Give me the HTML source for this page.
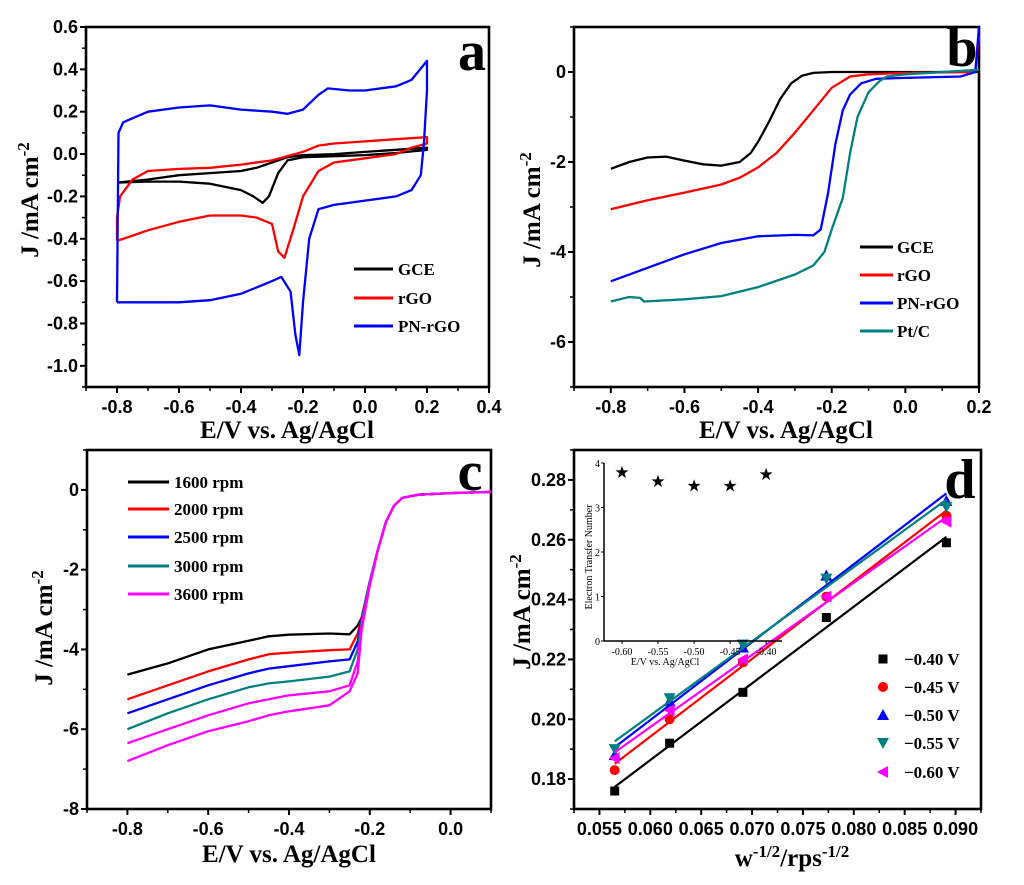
<!DOCTYPE html>
<html><head><meta charset="utf-8">
<style>
html,body{margin:0;padding:0;background:#fff;}
svg{display:block;}
.tk{font-family:"Liberation Sans",Arial,sans-serif;font-weight:bold;font-size:18px;fill:#000;}
.ttl{font-family:"Liberation Serif","Times New Roman",serif;font-weight:bold;font-size:25px;fill:#000;}
.lg{font-family:"Liberation Serif","Times New Roman",serif;font-weight:bold;font-size:17px;fill:#000;}
.let{font-family:"Liberation Serif","Times New Roman",serif;font-weight:bold;font-size:56px;fill:#000;}
.itk{font-family:"Liberation Serif",serif;font-size:10px;fill:#000;}
</style></head>
<body>
<svg id="fig" width="1024" height="885" viewBox="0 0 1024 885" xmlns="http://www.w3.org/2000/svg"></svg>
<script>
// ---- Panel a data (CV) ----
const aGceX=[-0.8,-0.7,-0.6,-0.5,-0.4,-0.35,-0.3,-0.25,-0.2,-0.1,0,0.1,0.2,0.2,0.1,0,-0.1,-0.2,-0.25,-0.28,-0.31,-0.33,-0.36,-0.4,-0.5,-0.6,-0.7,-0.8];
const aGceY=[-0.135,-0.12,-0.1,-0.09,-0.08,-0.065,-0.04,-0.015,-0.005,0,0.01,0.02,0.03,0.02,0.005,-0.005,-0.01,-0.015,-0.03,-0.09,-0.2,-0.23,-0.2,-0.17,-0.14,-0.13,-0.13,-0.135];
const aRgoX=[-0.8,-0.8,-0.79,-0.75,-0.7,-0.6,-0.5,-0.4,-0.3,-0.2,-0.15,-0.1,0,0.1,0.2,0.2,0.15,0.1,0,-0.1,-0.15,-0.2,-0.23,-0.26,-0.28,-0.3,-0.35,-0.4,-0.5,-0.6,-0.7,-0.8];
const aRgoY=[-0.41,-0.3,-0.2,-0.12,-0.08,-0.07,-0.065,-0.05,-0.03,0.01,0.04,0.05,0.06,0.07,0.08,0.05,0.03,0,-0.02,-0.04,-0.08,-0.2,-0.35,-0.49,-0.46,-0.33,-0.3,-0.29,-0.29,-0.32,-0.36,-0.41];
const aPnX=[-0.8,-0.795,-0.78,-0.7,-0.6,-0.5,-0.4,-0.3,-0.25,-0.2,-0.15,-0.12,-0.05,0,0.1,0.15,0.2,0.2,0.19,0.18,0.15,0.1,0,-0.1,-0.15,-0.18,-0.2,-0.212,-0.225,-0.24,-0.27,-0.3,-0.4,-0.5,-0.6,-0.7,-0.8];
const aPnY=[-0.7,0.1,0.15,0.2,0.22,0.23,0.21,0.2,0.19,0.21,0.28,0.31,0.3,0.3,0.32,0.35,0.44,0.3,0.05,-0.1,-0.17,-0.2,-0.22,-0.24,-0.26,-0.4,-0.7,-0.95,-0.85,-0.65,-0.58,-0.6,-0.66,-0.69,-0.7,-0.7,-0.7];
const aXTicks=[-0.8,-0.6,-0.4,-0.2,0.0,0.2,0.4];
const aYTicks=[-1.0,-0.8,-0.6,-0.4,-0.2,0.0,0.2,0.4,0.6];
// ---- Panel b data (LSV) ----
const bGceX=[-0.8,-0.75,-0.7,-0.65,-0.6,-0.55,-0.5,-0.45,-0.42,-0.4,-0.37,-0.34,-0.31,-0.28,-0.25,-0.2,0.2];
const bGceY=[-2.15,-2.0,-1.9,-1.88,-1.97,-2.05,-2.08,-2.0,-1.8,-1.55,-1.1,-0.6,-0.25,-0.08,-0.02,0,0];
const bRgoX=[-0.8,-0.7,-0.6,-0.5,-0.45,-0.4,-0.35,-0.3,-0.25,-0.2,-0.15,-0.1,0,0.19,0.2];
const bRgoY=[-3.05,-2.85,-2.68,-2.5,-2.35,-2.12,-1.8,-1.35,-0.85,-0.35,-0.1,-0.05,-0.02,0,0.8];
const bPnX=[-0.8,-0.7,-0.6,-0.5,-0.4,-0.3,-0.25,-0.23,-0.21,-0.19,-0.17,-0.15,-0.12,-0.08,0,0.15,0.19,0.2];
const bPnY=[-4.65,-4.35,-4.05,-3.8,-3.65,-3.62,-3.63,-3.5,-2.7,-1.6,-0.85,-0.5,-0.25,-0.15,-0.13,-0.1,0,1.0];
const bPtX=[-0.8,-0.75,-0.72,-0.71,-0.6,-0.5,-0.4,-0.3,-0.25,-0.22,-0.2,-0.17,-0.15,-0.13,-0.1,-0.07,-0.05,0,0.2];
const bPtY=[-5.1,-5.0,-5.02,-5.1,-5.05,-4.98,-4.78,-4.5,-4.3,-4.0,-3.5,-2.8,-1.8,-1.0,-0.45,-0.2,-0.1,-0.05,0.05];
const bXTicks=[-0.8,-0.6,-0.4,-0.2,0.0,0.2];
const bYTicks=[-6,-4,-2,0];
// ---- Panel c data (rotation rates) ----
const cX=[-0.8,-0.7,-0.6,-0.5,-0.45,-0.4,-0.3,-0.25,-0.23,-0.22,-0.2,-0.18,-0.16,-0.14,-0.12,-0.08,0,0.1];
const c1600=[-4.63,-4.35,-4.0,-3.78,-3.67,-3.63,-3.6,-3.62,-3.4,-3.2,-2.3,-1.5,-0.8,-0.4,-0.2,-0.12,-0.08,-0.05];
const c2000=[-5.25,-4.9,-4.55,-4.25,-4.12,-4.08,-4.02,-4.0,-3.6,-3.2,-2.3,-1.5,-0.8,-0.4,-0.2,-0.12,-0.08,-0.05];
const c2500=[-5.6,-5.25,-4.9,-4.6,-4.48,-4.42,-4.3,-4.25,-3.8,-3.25,-2.3,-1.5,-0.8,-0.4,-0.2,-0.12,-0.08,-0.05];
const c3000=[-6.0,-5.6,-5.25,-4.95,-4.85,-4.8,-4.68,-4.55,-4.0,-3.3,-2.3,-1.5,-0.8,-0.4,-0.2,-0.12,-0.08,-0.05];
const c3600=[-6.35,-6.0,-5.65,-5.35,-5.25,-5.15,-5.05,-4.9,-4.3,-3.4,-2.35,-1.5,-0.8,-0.4,-0.2,-0.12,-0.08,-0.05];
const c3600b=[-6.8,-6.4,-6.05,-5.8,-5.65,-5.55,-5.4,-5.05,-4.6,-3.5,-2.4,-1.5,-0.8,-0.4,-0.2,-0.12,-0.08,-0.05];
const cXTicks=[-0.8,-0.6,-0.4,-0.2,0.0];
const cYTicks=[-8,-6,-4,-2,0];
// ---- Panel d data (K-L plot) ----
const dX=[0.0565,0.0619,0.0691,0.0773,0.0891];
const d040=[0.176,0.192,0.209,0.234,0.259];
const d045=[0.183,0.200,0.219,0.241,0.268];
const d050=[0.188,0.206,0.224,0.248,0.273];
const d055=[0.190,0.207,0.225,0.247,0.271];
const d060=[0.187,0.203,0.220,0.241,0.266];
const dXTicks=[0.055,0.060,0.065,0.070,0.075,0.080,0.085,0.090];
const dXLabels=["0.055","0.060","0.065","0.070","0.075","0.080","0.085","0.090"];
const dYTicks=[0.18,0.20,0.22,0.24,0.26,0.28];
const dYLabels=["0.18","0.20","0.22","0.24","0.26","0.28"];
const insetX=[-0.60,-0.55,-0.50,-0.45,-0.40];
const insetN=[3.8,3.6,3.5,3.5,3.75];
const insetXTicks=[-0.60,-0.55,-0.50,-0.45,-0.40];
const insetXLabels=["-0.60","-0.55","-0.50","-0.45","-0.40"];
const insetYTicks=[0,1,2,3,4];

const NS="http://www.w3.org/2000/svg";
const svg=document.getElementById('fig');
function mk(tag,attrs,parent){const e=document.createElementNS(NS,tag);for(const k in attrs)e.setAttribute(k,attrs[k]);(parent||svg).appendChild(e);return e;}
function scale(d0,d1,r0,r1){return v=>r0+(v-d0)/(d1-d0)*(r1-r0);}
function fmt(v,dec){return v.toFixed(dec);}

function axes(P,xt,xl,yt,yl,minor,name){
  const g=mk('g',{});
  
  
  const fr=mk('rect',{x:P.L,y:P.T,width:P.R-P.L,height:P.B-P.T,fill:'none',stroke:'#000','stroke-width':2.6},g);
  
  
  xt.forEach((v,i)=>{const x=P.x(v);
    mk('line',{x1:x,x2:x,y1:P.B,y2:P.B+6,stroke:'#000','stroke-width':2},g);
    const t=mk('text',{x:x,y:P.B+26,'text-anchor':'middle',class:'tk'},g);
    t.textContent=xl[i];
    
    
    if(i<xt.length-1){const xm=P.x((v+xt[i+1])/2);mk('line',{x1:xm,x2:xm,y1:P.B,y2:P.B+4,stroke:'#000','stroke-width':1.5},g);}
  });
  if(minor){const x0=P.x(xt[0]-(xt[1]-xt[0])/2);if(x0>=P.L-1)mk('line',{x1:x0,x2:x0,y1:P.B,y2:P.B+4,stroke:'#000','stroke-width':1.5},g);}
  yt.forEach((v,i)=>{const y=P.y(v);
    mk('line',{x1:P.L-6,x2:P.L,y1:y,y2:y,stroke:'#000','stroke-width':2},g);
    const t=mk('text',{x:P.L-8,y:y+6,'text-anchor':'end',class:'tk'},g);
    t.textContent=yl[i];
    
    
    if(i<yt.length-1){const ym=P.y((v+yt[i+1])/2);mk('line',{x1:P.L-4,x2:P.L,y1:ym,y2:ym,stroke:'#000','stroke-width':1.5},g);}
  });
  const ylo=P.y(yt[0]-(yt[1]-yt[0])/2); if(ylo<=P.B+1) mk('line',{x1:P.L-4,x2:P.L,y1:ylo,y2:ylo,stroke:'#000','stroke-width':1.5},g);
  const yhi=P.y(yt[yt.length-1]+(yt[1]-yt[0])/2); if(yhi>=P.T-1) mk('line',{x1:P.L-4,x2:P.L,y1:yhi,y2:yhi,stroke:'#000','stroke-width':1.5},g);
  const xr=P.x(xt[xt.length-1]+(xt[1]-xt[0])/2); if(xr<=P.R+1) mk('line',{x1:xr,x2:xr,y1:P.B,y2:P.B+4,stroke:'#000','stroke-width':1.5},g);
}
function line(P,xs,ys,color,name,w){
  const pts=xs.map((v,i)=>P.x(v).toFixed(1)+','+P.y(ys[i]).toFixed(1)).join(' ');
  const l=mk('polyline',{points:pts,fill:'none',stroke:color,'stroke-width':w||2.3,'stroke-linejoin':'round'});
  
  
  return l;
}
function legLine(x1,x2,y,color,label,tx,name){
  const l=mk('line',{x1:x1,x2:x2,y1:y,y2:y,stroke:color,'stroke-width':3});
  
  
  const t=mk('text',{x:tx,y:y+6,class:'lg'});
  t.textContent=label;
  
  
}
function txt(x,y,s,cls,name,rot){
  const t=mk('text',{x:x,y:y,class:cls,'text-anchor':'middle'});
  if(rot)t.setAttribute('transform','rotate(-90 '+x+' '+y+')');
  t.textContent=s;
  
  
  return t;
}
const YT='J /mA cm<tspan dy="-9" font-size="17">-2</tspan>';

// ===== Panel a =====
const PA={L:86,R:489,T:27,B:387};PA.x=scale(-0.9,0.4,PA.L,PA.R);PA.y=scale(-1.1,0.6,PA.B,PA.T);
axes(PA,aXTicks,aXTicks.map(v=>fmt(v,1)),aYTicks,aYTicks.map(v=>fmt(v,1)),true,'panel-a');
line(PA,aGceX,aGceY,'#000','a-gce-curve');
line(PA,aRgoX,aRgoY,'#ff0000','a-rgo-curve');
line(PA,aPnX,aPnY,'#0000ff','a-pn-rgo-curve');
legLine(354,393,269,'#000','GCE',398,'legend-a-gce');
legLine(354,393,298,'#ff0000','rGO',398,'legend-a-rgo');
legLine(354,393,326,'#0000ff','PN-rGO',398,'legend-a-pn-rgo');
txt(472,70,'a','let','panel-a-letter');
txt(287,438,'E/V vs. Ag/AgCl','ttl','panel-a-x-title');
txt(38,200,'','ttl','panel-a-y-title',true).innerHTML=YT;

// ===== Panel b =====
const PB={L:574,R:979,T:27,B:387};PB.x=scale(-0.9,0.2,PB.L,PB.R);PB.y=scale(-7,1,PB.B,PB.T);
axes(PB,bXTicks,bXTicks.map(v=>fmt(v,1)),bYTicks,bYTicks.map(v=>String(v)),true,'panel-b');
line(PB,bGceX,bGceY,'#000','b-gce-curve');
line(PB,bRgoX,bRgoY,'#ff0000','b-rgo-curve');
line(PB,bPnX,bPnY,'#0000ff','b-pn-rgo-curve');
line(PB,bPtX,bPtY,'#008080','b-ptc-curve');
legLine(860,893,247,'#000','GCE',897,'legend-b-gce');
legLine(860,893,275,'#ff0000','rGO',897,'legend-b-rgo');
legLine(860,893,303,'#0000ff','PN-rGO',897,'legend-b-pn-rgo');
legLine(860,893,331,'#008080','Pt/C',897,'legend-b-ptc');
txt(962,66,'b','let','panel-b-letter');
txt(786,438,'E/V vs. Ag/AgCl','ttl','panel-b-x-title');
txt(540,210,'','ttl','panel-b-y-title',true).innerHTML=YT;

// ===== Panel c =====
const PC={L:87,R:491,T:450,B:809};PC.x=scale(-0.9,0.1,PC.L,PC.R);PC.y=scale(-8,1,PC.B,PC.T);
axes(PC,cXTicks,cXTicks.map(v=>fmt(v,1)),cYTicks,cYTicks.map(v=>String(v)),true,'panel-c');
line(PC,cX,c1600,'#000','c-1600-curve');
line(PC,cX,c2000,'#ff0000','c-2000-curve');
line(PC,cX,c2500,'#0000ff','c-2500-curve');
line(PC,cX,c3000,'#008080','c-3000-curve');
line(PC,cX,c3600,'#ff00ff','c-3600-curve');
line(PC,cX,c3600b,'#ff00ff','c-3600b-curve');
const cLab=['1600 rpm','2000 rpm','2500 rpm','3000 rpm','3600 rpm'];
const cCol=['#000','#ff0000','#0000ff','#008080','#ff00ff'];
[482,509,537,566,594].forEach((y,i)=>legLine(128,169,y,cCol[i],cLab[i],174,'legend-c-'+i));
txt(470,490,'c','let','panel-c-letter');
txt(289,862,'E/V vs. Ag/AgCl','ttl','panel-c-x-title');
txt(52,628,'','ttl','panel-c-y-title',true).innerHTML=YT;

// ===== Panel d =====
const PD={L:574,R:981,T:450,B:809};PD.x=scale(0.0525,0.0925,PD.L,PD.R);PD.y=scale(0.17,0.29,PD.B,PD.T);
axes(PD,dXTicks,dXLabels,dYTicks,dYLabels,true,'panel-d');
const dSeries=[[d040,'#000','sq','-0.40 V'],[d045,'#ff0000','ci','-0.45 V'],[d050,'#0000ff','tu','-0.50 V'],[d055,'#008080','td','-0.55 V'],[d060,'#ff00ff','tl','-0.60 V']];
function marker(x,y,type,color,parent){
  let e;
  if(type==='sq')e=mk('rect',{x:x-4.5,y:y-4.5,width:9,height:9,fill:color},parent);
  else if(type==='ci')e=mk('circle',{cx:x,cy:y,r:5,fill:color},parent);
  else if(type==='tu')e=mk('polygon',{points:`${x},${y-6} ${x-6},${y+5} ${x+6},${y+5}`,fill:color},parent);
  else if(type==='td')e=mk('polygon',{points:`${x},${y+6} ${x-6},${y-5} ${x+6},${y-5}`,fill:color},parent);
  else e=mk('polygon',{points:`${x-6},${y} ${x+5},${y-6} ${x+5},${y+6}`,fill:color},parent);
  return e;
}
dSeries.forEach(([ys,col,mt,lab],si)=>{
  const n=dX.length;let sx=0,sy=0,sxx=0,sxy=0;
  for(let i=0;i<n;i++){sx+=dX[i];sy+=ys[i];sxx+=dX[i]*dX[i];sxy+=dX[i]*ys[i];}
  const m=(n*sxy-sx*sy)/(n*sxx-sx*sx),b=(sy-m*sx)/n;
  const fx=[dX[0],dX[n-1]];
  line(PD,fx,fx.map(v=>m*v+b),col,'d-fit-line-'+si,2.2);
  const g=mk('g',{});
  
  
  dX.forEach((v,i)=>{const e=marker(PD.x(v),PD.y(ys[i]),mt,col,g);
    
    });
  const ly=[659,687,715,743,772][si];
  const lm=marker(883,ly,mt,col);
  
  
  const t=mk('text',{x:904,y:ly+6,class:'lg'});
  t.textContent=lab.replace('-','\u2212');
  
  
});
txt(960,498,'d','let','panel-d-letter');
txt(792,866,'','ttl','panel-d-x-title').innerHTML='w<tspan dy="-9" font-size="17">-1/2</tspan><tspan dy="9">/rps</tspan><tspan dy="-9" font-size="17">-1/2</tspan>';
txt(530,612,'','ttl','panel-d-y-title',true).innerHTML=YT;

// inset
const PI={L:604,R:782,T:463,B:641};PI.x=scale(-0.625,-0.378,PI.L,PI.R);PI.y=scale(0,4,PI.B,PI.T);
const ig=mk('g',{});


mk('line',{x1:PI.L,x2:PI.L,y1:PI.T,y2:PI.B,stroke:'#000','stroke-width':1.5},ig);
mk('line',{x1:PI.L,x2:PI.R,y1:PI.B,y2:PI.B,stroke:'#000','stroke-width':1.5},ig);
insetXTicks.forEach((v,i)=>{const x=PI.x(v);mk('line',{x1:x,x2:x,y1:PI.B,y2:PI.B+3,stroke:'#000'},ig);
  const t=mk('text',{x:x,y:PI.B+14,'text-anchor':'middle',class:'itk'},ig);
  t.textContent=insetXLabels[i];
  
  });
insetYTicks.forEach(v=>{const y=PI.y(v);mk('line',{x1:PI.L-3,x2:PI.L,y1:y,y2:y,stroke:'#000'},ig);
  const t=mk('text',{x:PI.L-4,y:y+4,'text-anchor':'end',class:'itk'},ig);
  t.textContent=String(v);
  
  });
insetX.forEach((v,i)=>{const s=mk('text',{x:PI.x(v),y:PI.y(insetN[i])+6,'text-anchor':'middle','font-size':'17','font-family':'DejaVu Sans, sans-serif'});
  s.textContent='\u2605';
  
  });
const ixt=mk('text',{x:665,y:665,'text-anchor':'middle',class:'itk','font-size':'11'});
ixt.textContent='E/V vs. Ag/AgCl';


const iyt=mk('text',{x:592,y:557,'text-anchor':'middle',class:'itk','font-size':'11',transform:'rotate(-90 592 557)'});
iyt.textContent='Electron Transfer Number';


</script>
</body></html>
